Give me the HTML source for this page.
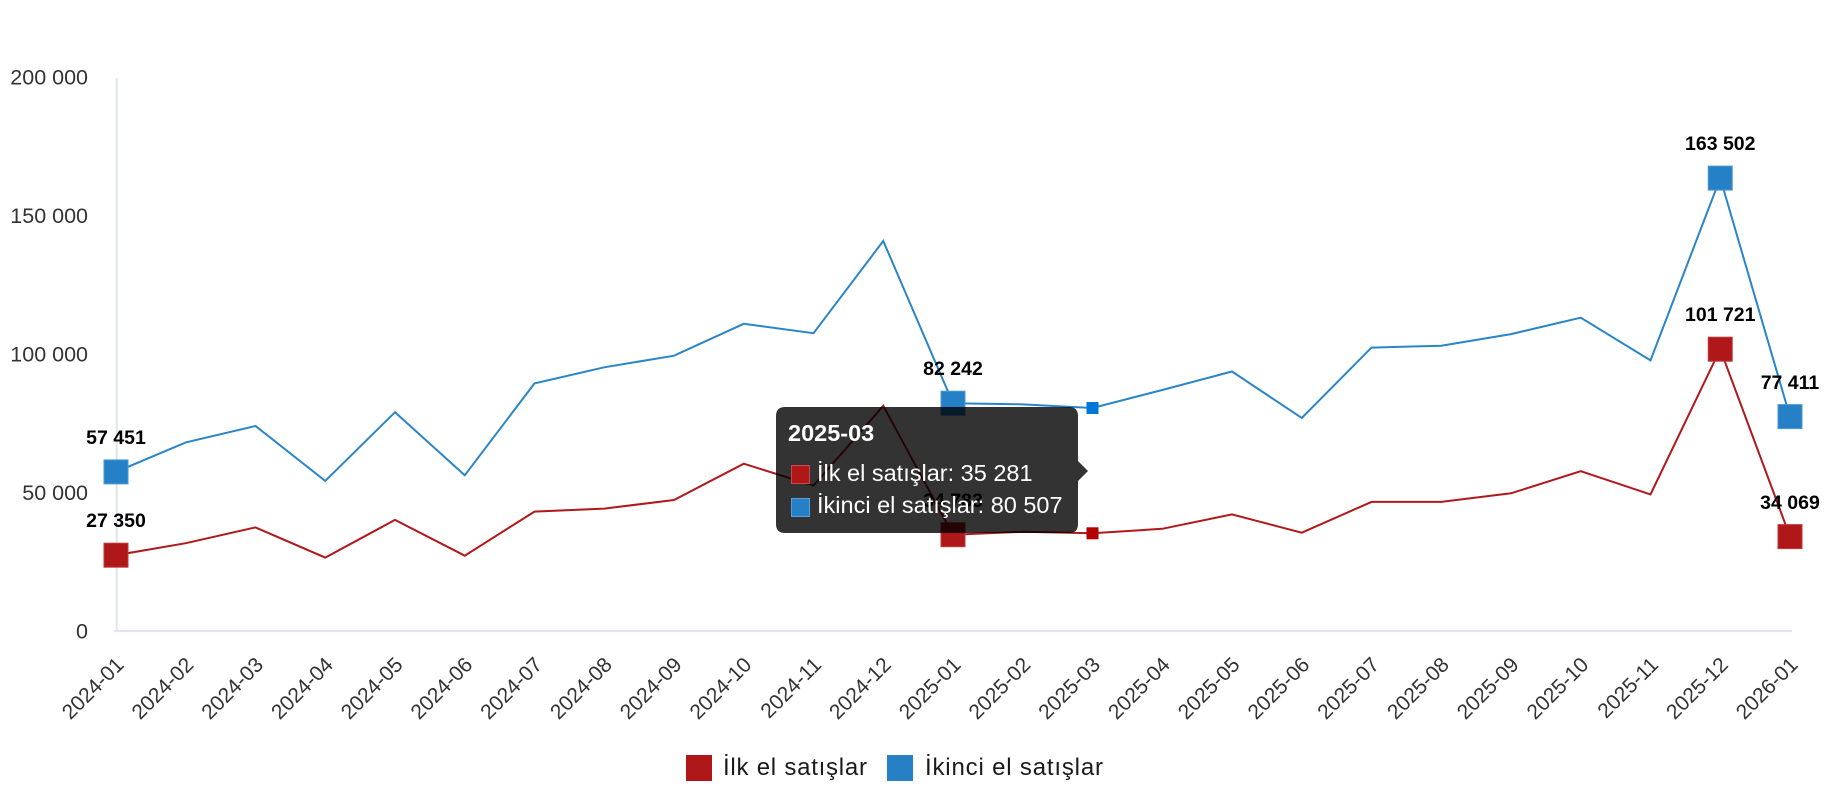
<!DOCTYPE html>
<html>
<head>
<meta charset="utf-8">
<style>
  html,body{margin:0;padding:0;background:#fff;}
  svg{display:block;}
  text{font-family:"Liberation Sans", Arial, sans-serif;}
</style>
</head>
<body>
<svg width="1830" height="800" viewBox="0 0 1830 800" xmlns="http://www.w3.org/2000/svg">
  <rect x="0" y="0" width="1830" height="800" fill="#ffffff"/>

  <!-- axes -->
  <line x1="116.7" y1="78" x2="116.7" y2="632" stroke="#e1e5ee" stroke-width="2"/>
  <line x1="114" y1="631" x2="1792" y2="631" stroke="#e1e5ee" stroke-width="2"/>

  <!-- y labels -->
  <g font-size="21.5" fill="#333" text-anchor="end">
    <text x="88" y="84.5">200 000</text>
    <text x="88" y="223">150 000</text>
    <text x="88" y="361.5">100 000</text>
    <text x="88" y="500">50 000</text>
    <text x="88" y="638.5">0</text>
  </g>

  <!-- x labels -->
  <g font-size="21" fill="#333" text-anchor="end">
    <text transform="translate(125,666) rotate(-45)">2024-01</text>
    <text transform="translate(194.75,666) rotate(-45)">2024-02</text>
    <text transform="translate(264.5,666) rotate(-45)">2024-03</text>
    <text transform="translate(334.25,666) rotate(-45)">2024-04</text>
    <text transform="translate(404,666) rotate(-45)">2024-05</text>
    <text transform="translate(473.75,666) rotate(-45)">2024-06</text>
    <text transform="translate(543.5,666) rotate(-45)">2024-07</text>
    <text transform="translate(613.25,666) rotate(-45)">2024-08</text>
    <text transform="translate(683,666) rotate(-45)">2024-09</text>
    <text transform="translate(752.75,666) rotate(-45)">2024-10</text>
    <text transform="translate(822.5,666) rotate(-45)">2024-11</text>
    <text transform="translate(892.25,666) rotate(-45)">2024-12</text>
    <text transform="translate(962,666) rotate(-45)">2025-01</text>
    <text transform="translate(1031.75,666) rotate(-45)">2025-02</text>
    <text transform="translate(1101.5,666) rotate(-45)">2025-03</text>
    <text transform="translate(1171.25,666) rotate(-45)">2025-04</text>
    <text transform="translate(1241,666) rotate(-45)">2025-05</text>
    <text transform="translate(1310.75,666) rotate(-45)">2025-06</text>
    <text transform="translate(1380.5,666) rotate(-45)">2025-07</text>
    <text transform="translate(1450.25,666) rotate(-45)">2025-08</text>
    <text transform="translate(1520,666) rotate(-45)">2025-09</text>
    <text transform="translate(1589.75,666) rotate(-45)">2025-10</text>
    <text transform="translate(1659.5,666) rotate(-45)">2025-11</text>
    <text transform="translate(1729.25,666) rotate(-45)">2025-12</text>
    <text transform="translate(1799,666) rotate(-45)">2026-01</text>
  </g>

  <!-- blue series line -->
  <polyline fill="none" stroke="#2a85c8" stroke-width="2" stroke-linejoin="miter"
    points="116,471.9 185.75,442.4 255.5,426.0 325.25,480.9 395,412.2 464.75,475.3 534.5,383.4 604.25,367.3 674,355.7 743.75,323.8 813.5,333.2 883.25,241.0 953,403.2 1022.75,404.4 1092.5,408.0 1162.25,390.0 1232,371.5 1301.75,418.0 1371.5,347.6 1441.25,345.7 1511,334.1 1580.75,317.7 1650.5,360.4 1720.25,178.1 1790,416.6"/>

  <!-- red series line -->
  <polyline fill="none" stroke="#b0181a" stroke-width="2" stroke-linejoin="miter"
    points="116,555.2 185.75,543.2 255.5,527.4 325.25,557.6 395,519.9 464.75,555.7 534.5,511.6 604.25,508.6 674,500.0 743.75,463.7 813.5,485.6 883.25,405.8 953,534.7 1022.75,531.8 1092.5,533.3 1162.25,528.8 1232,514.4 1301.75,532.7 1371.5,501.9 1441.25,501.9 1511,493.3 1580.75,471.2 1650.5,494.4 1720.25,349.2 1790,536.6"/>

  <!-- big markers blue -->
  <g fill="#2680c6" stroke="#4a98d4" stroke-width="1">
    <rect x="104" y="459.9" width="24" height="24"/>
    <rect x="941" y="391.2" width="24" height="24"/>
    <rect x="1708.25" y="166.1" width="24" height="24"/>
    <rect x="1778" y="404.6" width="24" height="24"/>
  </g>
  <!-- big markers red -->
  <g fill="#b01718" stroke="#c2393a" stroke-width="1">
    <rect x="104" y="543.2" width="24" height="24"/>
    <rect x="941" y="522.7" width="24" height="24"/>
    <rect x="1708.25" y="337.2" width="24" height="24"/>
    <rect x="1778" y="524.6" width="24" height="24"/>
  </g>
  <!-- hover markers -->
  <rect x="1086.5" y="402" width="12" height="12" fill="#0078d7"/>
  <rect x="1086.5" y="527.3" width="12" height="12" fill="#b30000"/>

  <!-- data labels -->
  <g font-size="19.5" font-weight="bold" fill="#000" text-anchor="middle">
    <text x="116" y="444">57 451</text>
    <text x="953" y="375">82 242</text>
    <text x="1720.25" y="150">163 502</text>
    <text x="1790" y="389">77 411</text>
    <text x="116" y="527">27 350</text>
    <text x="953" y="507">34 783</text>
    <text x="1720.25" y="321">101 721</text>
    <text x="1790" y="509">34 069</text>
  </g>

  <!-- tooltip -->
  <path d="M785,407 H1069 Q1078,407 1078,416 V461 L1088,471 L1078,481 V524 Q1078,533 1069,533 H785 Q776,533 776,524 V416 Q776,407 785,407 Z" fill="rgba(0,0,0,0.8)"/>
  <text x="788" y="441" font-size="23.5" font-weight="bold" fill="#fff">2025-03</text>
  <rect x="791.5" y="465.5" width="18" height="18" fill="#b01717" stroke="#c94a4a" stroke-width="1"/>
  <text x="817" y="481" font-size="23.5" fill="#fff">İlk el satışlar: 35 281</text>
  <rect x="791.5" y="498.5" width="18" height="18" fill="#2680c6" stroke="#5aa0d8" stroke-width="1"/>
  <text x="817" y="513" font-size="23.5" fill="#fff">İkinci el satışlar: 80 507</text>

  <!-- legend -->
  <rect x="686" y="755" width="26" height="26" fill="#b01718"/>
  <text x="723" y="775" font-size="24" fill="#1a1a1a" textLength="144" lengthAdjust="spacing">İlk el satışlar</text>
  <rect x="887" y="755" width="26" height="26" fill="#2680c6"/>
  <text x="925" y="775" font-size="24" fill="#1a1a1a" textLength="178" lengthAdjust="spacing">İkinci el satışlar</text>
</svg>
</body>
</html>
